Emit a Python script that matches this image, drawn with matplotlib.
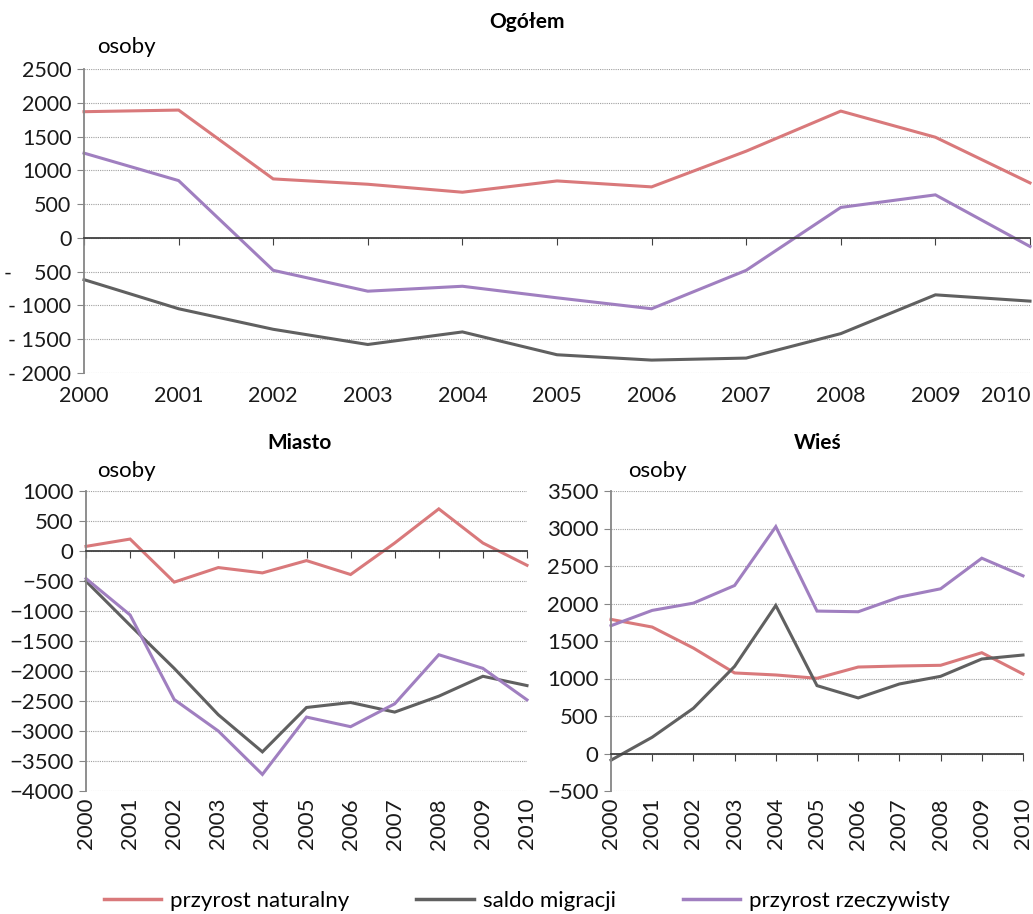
import matplotlib
matplotlib.use('Agg')
import matplotlib.pyplot as plt
from matplotlib.lines import Line2D

plt.rcParams['font.family'] = ['Lato', 'DejaVu Sans']

years = list(range(2000, 2011))

# Ogółem
og_naturalny = [1868, 1892, 873, 794, 676, 843, 755, 1284, 1877, 1490, 814]
og_saldo = [-618, -1049, -1353, -1578, -1392, -1730, -1809, -1779, -1417, -843, -936]
og_rzeczywisty = [1255, 848, -480, -789, -716, -887, -1049, -480, 451, 637, -127]

# Miasto
mi_naturalny = [77, 199, -519, -276, -365, -160, -392, 133, 702, 133, -238]
mi_saldo = [-503, -1238, -1956, -2729, -3348, -2608, -2525, -2685, -2420, -2088, -2243]
mi_rzeczywisty = [-459, -1066, -2475, -3000, -3724, -2768, -2928, -2547, -1729, -1956, -2481]

# Wieś
wi_naturalny = [1788, 1686, 1406, 1074, 1047, 1003, 1153, 1167, 1176, 1344, 1060]
wi_saldo = [-89, 217, 603, 1162, 1974, 905, 741, 927, 1029, 1260, 1313]
wi_rzeczywisty = [1704, 1908, 2005, 2240, 3025, 1899, 1890, 2085, 2196, 2604, 2369]

series_names = ['przyrost naturalny', 'saldo migracji', 'przyrost rzeczywisty']
colors = ['#D9797B', '#606060', '#A07FC0']

og_ticks = [-2000, -1500, -1000, -500, 0, 500, 1000, 1500, 2000, 2500]
og_ticklabels = ['- 2000', '- 1500', '- 1000', '-    500', '0', '500', '1000', '1500', '2000', '2500']

W, H = 1033, 914
fig = plt.figure(figsize=(W / 100, H / 100), dpi=100)


def make_ax(x0, x1, y_top, y_bot):
    return fig.add_axes([x0 / W, 1 - y_bot / H, (x1 - x0) / W, (y_bot - y_top) / H])


def style_ax(ax, ymin, ymax, step, rotate, fs):
    ax.set_xlim(2000, 2010)
    ax.set_ylim(ymin, ymax)
    ax.set_yticks(range(ymin, ymax + 1, step))
    ax.yaxis.grid(True, color='#A0A0A0', linestyle=(0, (1, 1)), linewidth=0.8)
    ax.set_axisbelow(True)
    for s in ['top', 'right']:
        ax.spines[s].set_visible(False)
    ax.spines['left'].set_color('#868686')
    ax.spines['left'].set_linewidth(1.3)
    ax.spines['bottom'].set_position(('data', 0))
    ax.spines['bottom'].set_color('#404040')
    ax.spines['bottom'].set_linewidth(1.3)
    ax.tick_params(axis='y', direction='out', length=5, color='#868686', labelsize=fs, pad=4, labelcolor='#1a1a1a')
    ax.set_xticks(years)
    ax.tick_params(axis='x', direction='out', length=5, color='#404040', labelbottom=False)
    sec = ax.secondary_xaxis('bottom')
    sec.set_xticks(years)
    sec.spines['bottom'].set_visible(False)
    sec.tick_params(length=0, labelsize=fs, pad=9 if not rotate else 5, labelcolor='#1a1a1a')
    if rotate:
        sec.set_xticklabels([str(y) for y in years], rotation=90)
    else:
        sec.set_xticklabels([str(y) for y in years])
    return sec


def draw(ax, data):
    for vals, c in zip(data, colors):
        ax.plot(years, vals, color=c, linewidth=2.2, solid_joinstyle='miter', clip_on=False)


# top chart
ax1 = make_ax(84, 1030, 69, 373)
sec1 = style_ax(ax1, -2000, 2500, 500, False, 15.5)
ax1.set_yticks(og_ticks)
ax1.set_yticklabels(og_ticklabels)
sec1.get_xticklabels()[-1].set_horizontalalignment('right')
draw(ax1, [og_naturalny, og_saldo, og_rzeczywisty])
fig.text(527 / W, 1 - 22 / H, 'Ogółem', ha='center', va='center', fontsize=15, fontweight='bold')
fig.text(97 / W, 1 - 47 / H, 'osoby', ha='left', va='center', fontsize=16)

# Miasto
ax2 = make_ax(86, 527, 491, 791)
style_ax(ax2, -4000, 1000, 500, True, 16)
draw(ax2, [mi_naturalny, mi_saldo, mi_rzeczywisty])
fig.text(300 / W, 1 - 443 / H, 'Miasto', ha='center', va='center', fontsize=15, fontweight='bold')
fig.text(97 / W, 1 - 471 / H, 'osoby', ha='left', va='center', fontsize=16)

# Wieś
ax3 = make_ax(611, 1023, 491, 791)
style_ax(ax3, -500, 3500, 500, True, 16)
draw(ax3, [wi_naturalny, wi_saldo, wi_rzeczywisty])
fig.text(818 / W, 1 - 443 / H, 'Wieś', ha='center', va='center', fontsize=15, fontweight='bold')
fig.text(628 / W, 1 - 471 / H, 'osoby', ha='left', va='center', fontsize=16)

handles = [Line2D([], [], color=c, linewidth=2.5) for c in colors]
fig.legend(handles, series_names, loc='center', bbox_to_anchor=(0.51, 1 - 901 / H), ncol=3,
           frameon=False, fontsize=16, handlelength=2.6, handletextpad=0.4, columnspacing=3.0)

fig.savefig('out.png', dpi=100)
